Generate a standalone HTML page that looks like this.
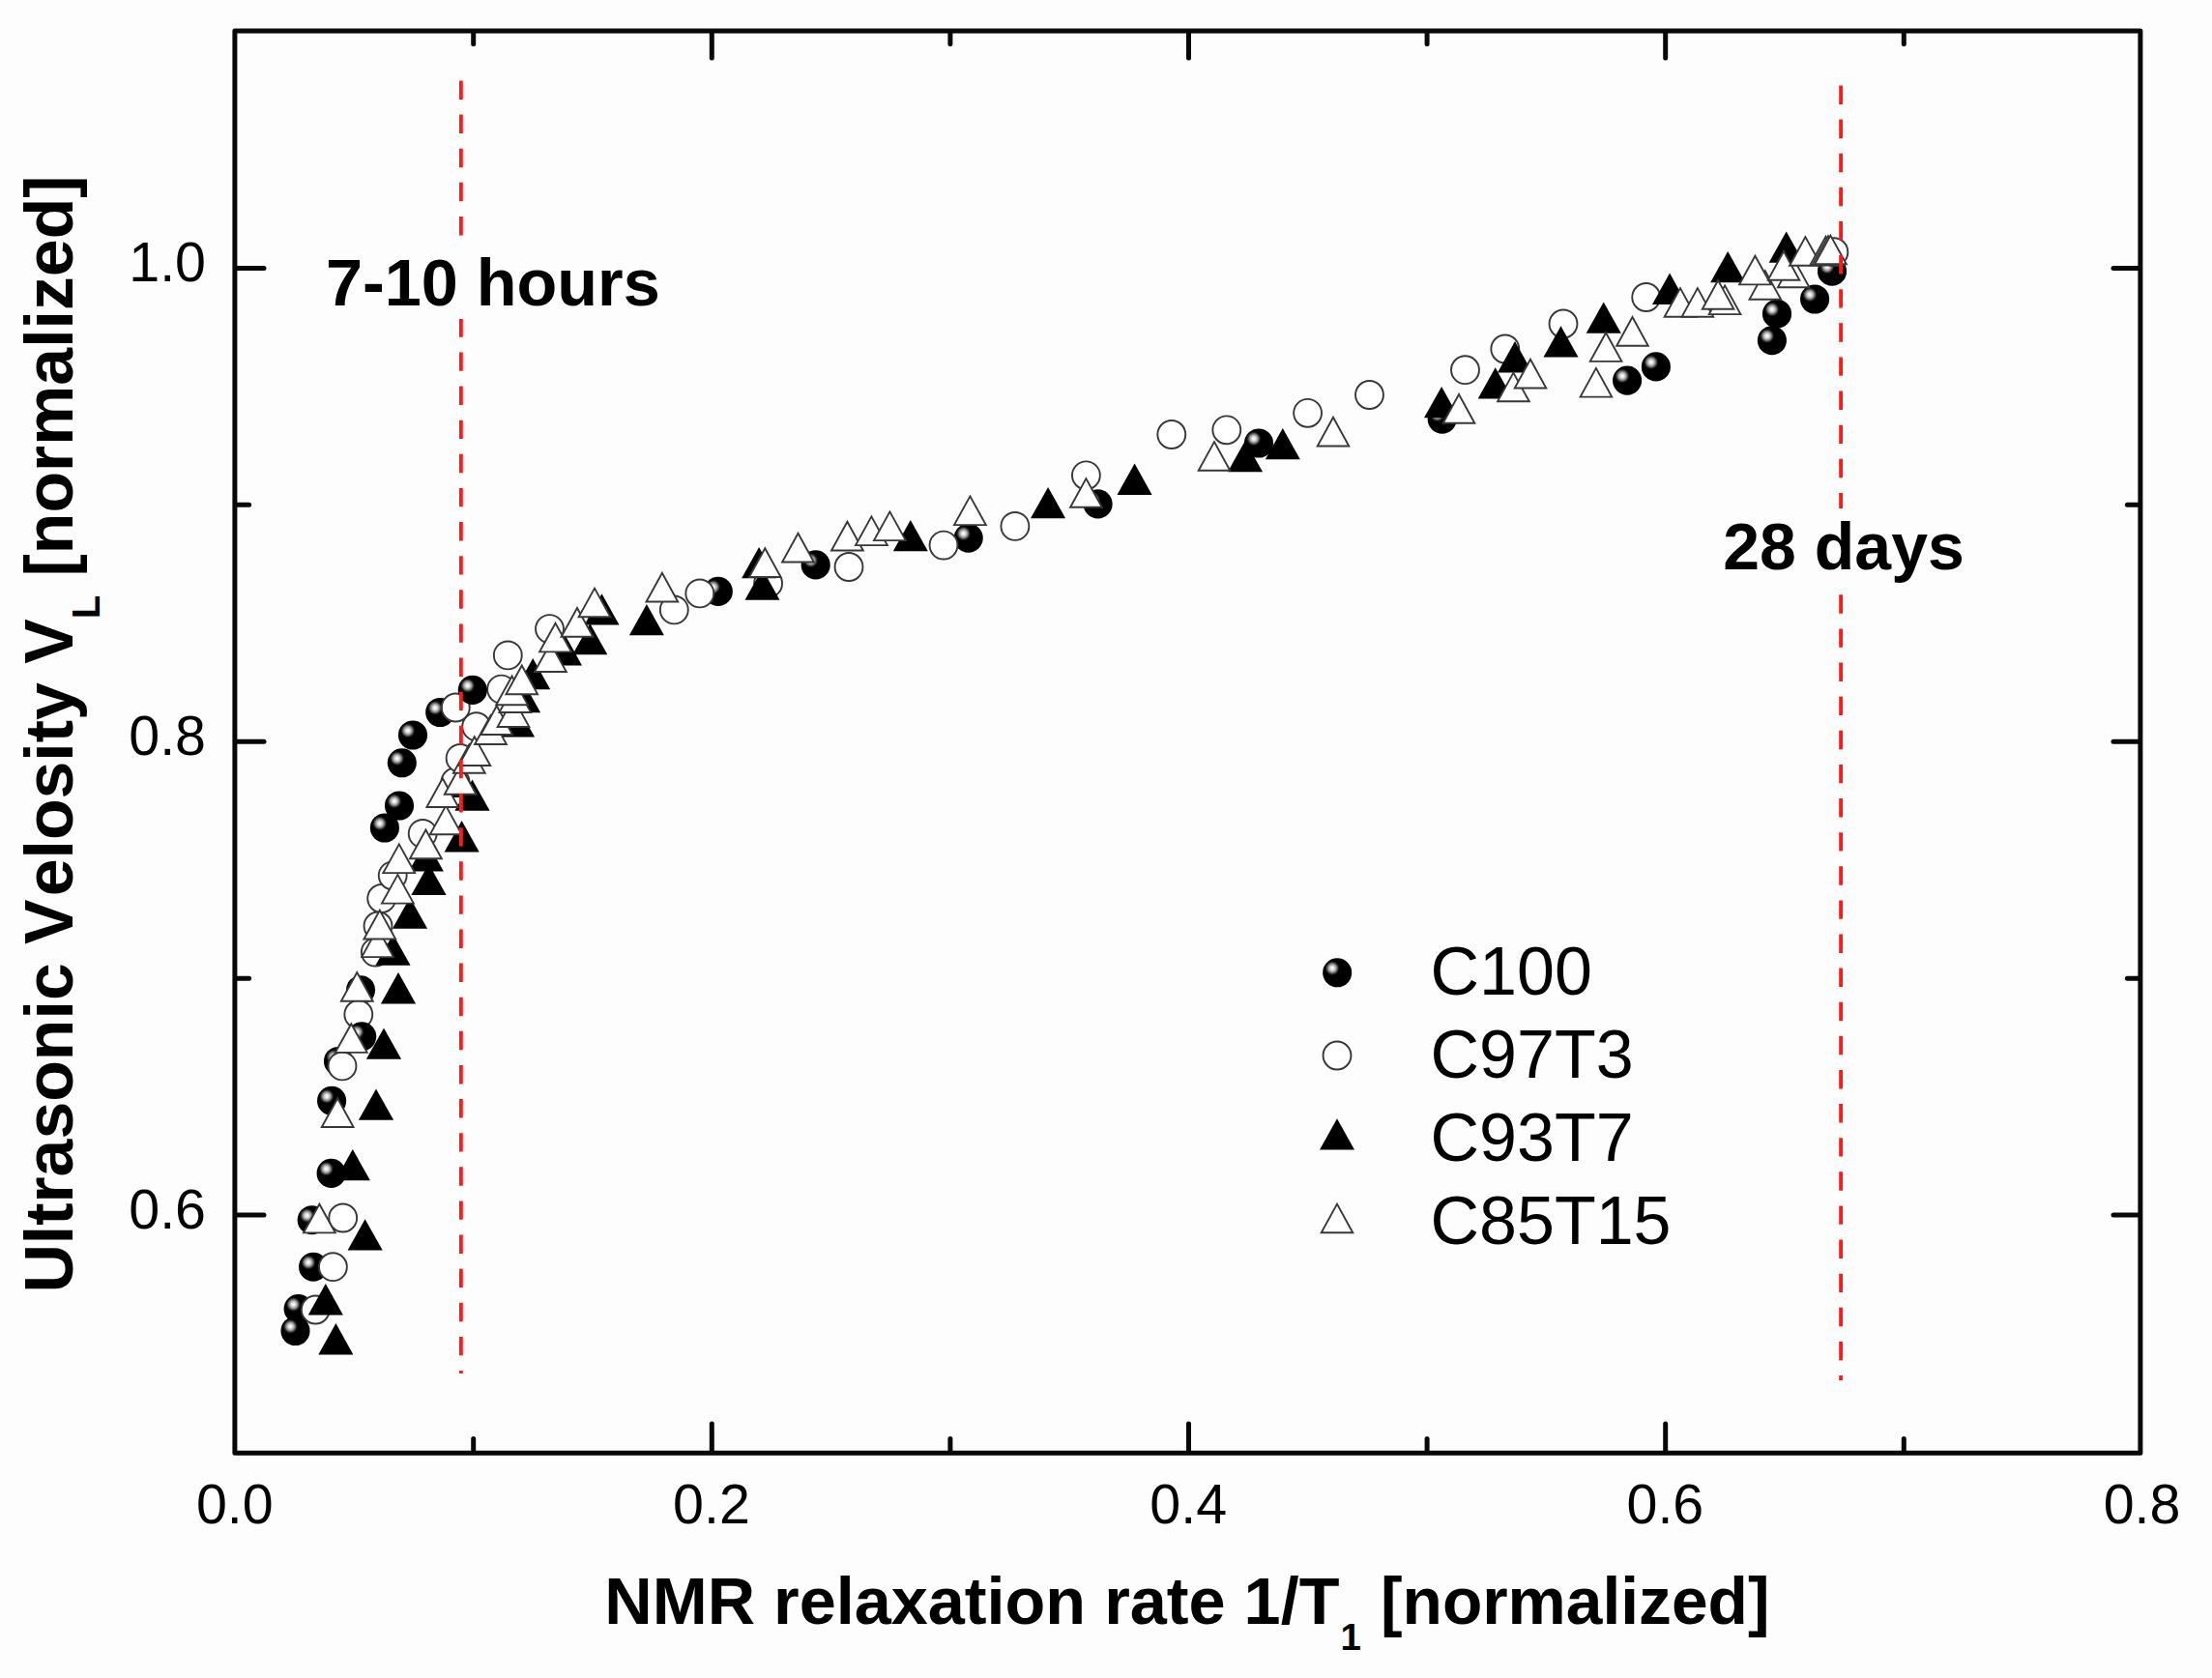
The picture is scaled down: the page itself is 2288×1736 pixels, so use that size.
<!DOCTYPE html>
<html lang="en"><head><meta charset="utf-8"><title>Ultrasonic velocity vs NMR relaxation rate</title>
<style>html,body{margin:0;padding:0;background:#fdfdfd;}svg{display:block;}text{font-family:"Liberation Sans",Arial,Helvetica,sans-serif;fill:#000;font-kerning:none;}</style>
</head><body>
<svg width="2288" height="1736" viewBox="0 0 2288 1736">
<defs><radialGradient id="sg" cx="0.33" cy="0.345" r="0.5" fx="0.33" fy="0.345"><stop offset="0" stop-color="#ffffff"/><stop offset="0.13" stop-color="#e4e4e4"/><stop offset="0.29" stop-color="#8c8c8c"/><stop offset="0.42" stop-color="#242424"/><stop offset="0.5" stop-color="#000"/><stop offset="1" stop-color="#000"/></radialGradient></defs>
<rect x="0" y="0" width="2288" height="1736" fill="#fdfdfd"/>
<g id="c100">
<circle cx="1895.0" cy="280.7" r="15.05" fill="url(#sg)"/>
<circle cx="1877.1" cy="309.5" r="15.05" fill="url(#sg)"/>
<circle cx="1838.0" cy="324.7" r="15.05" fill="url(#sg)"/>
<circle cx="1832.9" cy="352.2" r="15.05" fill="url(#sg)"/>
<circle cx="1712.9" cy="379.4" r="15.05" fill="url(#sg)"/>
<circle cx="1683.1" cy="393.6" r="15.05" fill="url(#sg)"/>
<circle cx="1491.7" cy="433.6" r="15.05" fill="url(#sg)"/>
<circle cx="1302.0" cy="458.5" r="15.05" fill="url(#sg)"/>
<circle cx="1135.6" cy="521.4" r="15.05" fill="url(#sg)"/>
<circle cx="1001.7" cy="556.6" r="15.05" fill="url(#sg)"/>
<circle cx="843.7" cy="584.4" r="15.05" fill="url(#sg)"/>
<circle cx="742.8" cy="611.9" r="15.05" fill="url(#sg)"/>
<circle cx="455.2" cy="737.0" r="15.05" fill="url(#sg)"/>
<circle cx="427.0" cy="760.5" r="15.05" fill="url(#sg)"/>
<circle cx="415.8" cy="789.3" r="15.05" fill="url(#sg)"/>
<circle cx="413.0" cy="833.5" r="15.05" fill="url(#sg)"/>
<circle cx="397.9" cy="856.5" r="15.05" fill="url(#sg)"/>
<circle cx="373.0" cy="1024.2" r="15.05" fill="url(#sg)"/>
<circle cx="350.0" cy="1098.0" r="15.05" fill="url(#sg)"/>
<circle cx="343.1" cy="1138.9" r="15.05" fill="url(#sg)"/>
<circle cx="342.6" cy="1213.9" r="15.05" fill="url(#sg)"/>
<circle cx="322.7" cy="1262.2" r="15.05" fill="url(#sg)"/>
<circle cx="324.1" cy="1310.7" r="15.05" fill="url(#sg)"/>
<circle cx="308.6" cy="1354.1" r="15.05" fill="url(#sg)"/>
</g>
<g id="c97t3" fill="#fff" stroke="#383838" stroke-width="1.9">
<circle cx="326.3" cy="1355.0" r="14.45"/>
<circle cx="344.4" cy="1310.7" r="14.45"/>
<circle cx="354.7" cy="1260.0" r="14.45"/>
<circle cx="354.0" cy="1102.9" r="14.45"/>
<circle cx="370.8" cy="1049.5" r="14.45"/>
<circle cx="388.3" cy="985.1" r="14.45"/>
<circle cx="391.0" cy="958.0" r="14.45"/>
<circle cx="394.7" cy="929.5" r="14.45"/>
<circle cx="406.2" cy="905.8" r="14.45"/>
<circle cx="437.2" cy="862.4" r="14.45"/>
<circle cx="471.0" cy="809.0" r="14.45"/>
<circle cx="476.1" cy="784.4" r="14.45"/>
<circle cx="492.7" cy="751.7" r="14.45"/>
<circle cx="471.3" cy="732.0" r="14.45"/>
<circle cx="518.6" cy="713.1" r="14.45"/>
<circle cx="525.3" cy="677.9" r="14.45"/>
<circle cx="568.5" cy="650.6" r="14.45"/>
<circle cx="697.3" cy="630.9" r="14.45"/>
<circle cx="723.8" cy="613.9" r="14.45"/>
<circle cx="794.6" cy="603.7" r="14.45"/>
<circle cx="878.0" cy="586.5" r="14.45"/>
<circle cx="976.0" cy="564.1" r="14.45"/>
<circle cx="1049.9" cy="544.4" r="14.45"/>
<circle cx="1123.4" cy="491.8" r="14.45"/>
<circle cx="1211.8" cy="449.5" r="14.45"/>
<circle cx="1268.8" cy="444.8" r="14.45"/>
<circle cx="1352.6" cy="427.3" r="14.45"/>
<circle cx="1416.5" cy="408.5" r="14.45"/>
<circle cx="1515.5" cy="382.7" r="14.45"/>
<circle cx="1556.8" cy="361.0" r="14.45"/>
<circle cx="1617.0" cy="335.0" r="14.45"/>
<circle cx="1702.7" cy="307.5" r="14.45"/>
<circle cx="1896.9" cy="260.7" r="14.45"/>
</g>
<g id="c100b">
<circle cx="488.8" cy="713.9" r="15.05" fill="url(#sg)"/>
<circle cx="374.2" cy="1072.3" r="15.05" fill="url(#sg)"/>
<circle cx="305.5" cy="1377.0" r="15.05" fill="url(#sg)"/>
</g>
<g id="c93t7" fill="#000">
<path d="M329.3 1401.4L365.4 1401.4L347.4 1369.1Z"/>
<path d="M318.8 1360.4L354.9 1360.4L336.8 1328.1Z"/>
<path d="M359.6 1293.5L395.7 1293.5L377.6 1261.2Z"/>
<path d="M346.8 1221.2L382.9 1221.2L364.8 1188.9Z"/>
<path d="M370.9 1158.8L407.1 1158.8L389.0 1126.5Z"/>
<path d="M378.9 1095.8L415.1 1095.8L397.0 1063.5Z"/>
<path d="M393.9 1038.4L430.1 1038.4L412.0 1006.1Z"/>
<path d="M388.4 998.7L424.6 998.7L406.5 966.4Z"/>
<path d="M405.9 960.7L442.1 960.7L424.0 928.4Z"/>
<path d="M425.4 926.1L461.6 926.1L443.5 893.8Z"/>
<path d="M422.8 901.5L458.9 901.5L440.9 869.2Z"/>
<path d="M459.6 881.4L495.7 881.4L477.6 849.1Z"/>
<path d="M470.4 838.7L506.6 838.7L488.5 806.4Z"/>
<path d="M458.4 825.0L494.6 825.0L476.5 792.7Z"/>
<path d="M517.0 762.6L553.0 762.6L535.0 730.3Z"/>
<path d="M523.1 737.3L559.1 737.3L541.1 705.0Z"/>
<path d="M533.2 713.2L569.2 713.2L551.2 680.9Z"/>
<path d="M566.0 688.4L602.0 688.4L584.0 656.1Z"/>
<path d="M592.2 677.2L628.3 677.2L610.3 644.9Z"/>
<path d="M650.9 657.3L686.9 657.3L668.9 625.0Z"/>
<path d="M604.5 646.5L640.5 646.5L622.5 614.2Z"/>
<path d="M770.5 620.7L806.5 620.7L788.5 588.4Z"/>
<path d="M767.1 598.3L803.1 598.3L785.1 566.0Z"/>
<path d="M923.8 570.2L959.8 570.2L941.8 537.9Z"/>
<path d="M1066.0 536.3L1102.1 536.3L1084.1 504.0Z"/>
<path d="M1155.5 511.9L1191.6 511.9L1173.6 479.6Z"/>
<path d="M1269.9 488.2L1306.0 488.2L1287.9 455.9Z"/>
<path d="M1308.8 475.3L1344.8 475.3L1326.8 443.0Z"/>
<path d="M1473.0 432.2L1509.1 432.2L1491.1 399.9Z"/>
<path d="M1528.7 412.6L1564.8 412.6L1546.7 380.3Z"/>
<path d="M1549.0 385.4L1585.0 385.4L1567.0 353.1Z"/>
<path d="M1596.5 369.5L1632.5 369.5L1614.5 337.2Z"/>
<path d="M1640.7 344.8L1676.8 344.8L1658.7 312.5Z"/>
<path d="M1709.0 314.9L1745.1 314.9L1727.1 282.6Z"/>
<path d="M1769.2 292.2L1805.2 292.2L1787.2 259.9Z"/>
<path d="M1829.7 271.8L1865.8 271.8L1847.7 239.5Z"/>
</g>
<g id="c85t15" fill="#fff" stroke="#383838" stroke-width="1.9" stroke-linejoin="miter">
<path d="M314.0 1275.4L346.8 1275.4L330.4 1245.7Z"/>
<path d="M332.8 1166.0L365.6 1166.0L349.2 1136.3Z"/>
<path d="M346.9 1088.9L379.7 1088.9L363.3 1059.2Z"/>
<path d="M352.9 1035.7L385.7 1035.7L369.3 1006.0Z"/>
<path d="M374.2 990.1L407.0 990.1L390.6 960.4Z"/>
<path d="M376.4 971.5L409.2 971.5L392.8 941.8Z"/>
<path d="M395.0 934.6L427.8 934.6L411.4 904.9Z"/>
<path d="M396.4 903.1L429.2 903.1L412.8 873.4Z"/>
<path d="M424.0 888.2L456.8 888.2L440.4 858.5Z"/>
<path d="M444.8 863.3L477.6 863.3L461.2 833.6Z"/>
<path d="M441.4 835.0L474.2 835.0L457.8 805.3Z"/>
<path d="M459.8 821.7L492.6 821.7L476.2 792.0Z"/>
<path d="M468.9 799.8L501.7 799.8L485.3 770.1Z"/>
<path d="M474.4 792.0L507.2 792.0L490.8 762.3Z"/>
<path d="M491.1 770.0L523.9 770.0L507.5 740.3Z"/>
<path d="M497.4 760.0L530.1 760.0L513.8 730.3Z"/>
<path d="M514.6 752.0L547.4 752.0L531.0 722.3Z"/>
<path d="M516.4 737.0L549.1 737.0L532.8 707.3Z"/>
<path d="M513.2 729.2L546.0 729.2L529.6 699.5Z"/>
<path d="M523.4 718.2L556.1 718.2L539.8 688.5Z"/>
<path d="M553.0 695.0L585.8 695.0L569.4 665.3Z"/>
<path d="M558.1 674.4L590.9 674.4L574.5 644.7Z"/>
<path d="M580.6 658.7L613.4 658.7L597.0 629.0Z"/>
<path d="M598.6 638.3L631.4 638.3L615.0 608.6Z"/>
<path d="M668.5 622.5L701.2 622.5L684.9 592.8Z"/>
<path d="M774.9 597.0L807.6 597.0L791.3 567.3Z"/>
<path d="M809.1 581.5L841.9 581.5L825.5 551.8Z"/>
<path d="M860.0 569.5L892.8 569.5L876.4 539.8Z"/>
<path d="M885.0 564.1L917.8 564.1L901.4 534.4Z"/>
<path d="M904.0 559.1L936.8 559.1L920.4 529.4Z"/>
<path d="M987.0 543.1L1019.8 543.1L1003.4 513.4Z"/>
<path d="M1107.1 524.8L1139.8 524.8L1123.4 495.1Z"/>
<path d="M1239.7 486.8L1272.3 486.8L1256.0 457.1Z"/>
<path d="M1362.7 461.5L1395.3 461.5L1379.0 431.8Z"/>
<path d="M1492.7 437.7L1525.3 437.7L1509.0 408.0Z"/>
<path d="M1549.1 415.3L1581.8 415.3L1565.4 385.6Z"/>
<path d="M1634.6 410.6L1667.2 410.6L1650.9 380.9Z"/>
<path d="M1566.7 401.5L1599.3 401.5L1583.0 371.8Z"/>
<path d="M1644.8 373.9L1677.4 373.9L1661.1 344.2Z"/>
<path d="M1672.2 357.7L1704.8 357.7L1688.5 328.0Z"/>
<path d="M1721.7 327.8L1754.3 327.8L1738.0 298.1Z"/>
<path d="M1739.6 327.8L1772.2 327.8L1755.9 298.1Z"/>
<path d="M1767.8 325.1L1800.4 325.1L1784.1 295.4Z"/>
<path d="M1760.8 319.7L1793.4 319.7L1777.1 290.0Z"/>
<path d="M1809.5 309.8L1842.1 309.8L1825.8 280.1Z"/>
<path d="M1838.9 297.3L1871.5 297.3L1855.2 267.6Z"/>
<path d="M1799.1 294.4L1831.8 294.4L1815.4 264.7Z"/>
<path d="M1828.7 289.7L1861.3 289.7L1845.0 260.0Z"/>
<path d="M1851.1 274.8L1883.8 274.8L1867.4 245.1Z"/>
<path d="M1872.2 274.5L1904.8 274.5L1888.5 244.8Z"/>
<path d="M1874.7 274.0L1907.3 274.0L1891.0 244.3Z"/>
<path d="M1877.1 273.3L1909.8 273.3L1893.4 243.6Z"/>
</g>
<g stroke="#ff1a1a" stroke-width="3.8" stroke-dasharray="19.4 15.72" fill="none">
<line x1="476.9" y1="83.5" x2="476.9" y2="1421"/>
<line x1="1904.1" y1="88.5" x2="1904.1" y2="1428"/>
</g>
<rect x="242.9" y="32.0" width="1971.0" height="1471.2" fill="none" stroke="#080808" stroke-width="5.0" stroke-linejoin="round"/>
<g stroke="#080808" stroke-width="5.0" stroke-linecap="round">
<line x1="489.7" y1="1502.2" x2="489.7" y2="1488.5"/>
<line x1="489.7" y1="33.0" x2="489.7" y2="45.5"/>
<line x1="736.3" y1="1502.2" x2="736.3" y2="1473.1"/>
<line x1="736.3" y1="33.0" x2="736.3" y2="59.9"/>
<line x1="982.9" y1="1502.2" x2="982.9" y2="1488.5"/>
<line x1="982.9" y1="33.0" x2="982.9" y2="45.5"/>
<line x1="1229.5" y1="1502.2" x2="1229.5" y2="1473.1"/>
<line x1="1229.5" y1="33.0" x2="1229.5" y2="59.9"/>
<line x1="1476.1" y1="1502.2" x2="1476.1" y2="1488.5"/>
<line x1="1476.1" y1="33.0" x2="1476.1" y2="45.5"/>
<line x1="1722.7" y1="1502.2" x2="1722.7" y2="1473.1"/>
<line x1="1722.7" y1="33.0" x2="1722.7" y2="59.9"/>
<line x1="1969.3" y1="1502.2" x2="1969.3" y2="1488.5"/>
<line x1="1969.3" y1="33.0" x2="1969.3" y2="45.5"/>
<line x1="243.9" y1="1257.1" x2="273.0" y2="1257.1"/>
<line x1="2212.9" y1="1257.1" x2="2186.0" y2="1257.1"/>
<line x1="243.9" y1="1012.2" x2="257.6" y2="1012.2"/>
<line x1="2212.9" y1="1012.2" x2="2200.4" y2="1012.2"/>
<line x1="243.9" y1="767.3" x2="273.0" y2="767.3"/>
<line x1="2212.9" y1="767.3" x2="2186.0" y2="767.3"/>
<line x1="243.9" y1="522.3" x2="257.6" y2="522.3"/>
<line x1="2212.9" y1="522.3" x2="2200.4" y2="522.3"/>
<line x1="243.9" y1="277.4" x2="273.0" y2="277.4"/>
<line x1="2212.9" y1="277.4" x2="2186.0" y2="277.4"/>
</g>
<g font-size="57.4" text-anchor="middle">
<text x="242.8" y="1576.3">0.0</text>
<text x="736.0" y="1576.3">0.2</text>
<text x="1229.2" y="1576.3">0.4</text>
<text x="1722.4" y="1576.3">0.6</text>
<text x="2215.6" y="1576.3">0.8</text>
</g>
<g font-size="57.4" text-anchor="end">
<text x="213" y="291.4">1.0</text>
<text x="213" y="781.3">0.8</text>
<text x="213" y="1271.1">0.6</text>
</g>
<rect x="332" y="245.5" width="356" height="84.5" fill="#fdfdfd"/>
<text x="336.9" y="316.4" font-size="68.4" font-weight="bold">7-10 hours</text>
<rect x="1778" y="526" width="258" height="88" fill="#fdfdfd"/>
<text x="1782.3" y="588.7" font-size="68" font-weight="bold">28 days</text>
<g id="legend">
<circle cx="1383.2" cy="1006.3" r="15.05" fill="url(#sg)"/>
<circle cx="1383.0" cy="1092.0" r="14.45" fill="#fff" stroke="#383838" stroke-width="1.9"/>
<path d="M1365.0 1189.6L1401.0 1189.6L1383.0 1157.3Z" fill="#000"/>
<path d="M1366.7 1275.3L1399.3 1275.3L1383.0 1245.6Z" fill="#fff" stroke="#383838" stroke-width="1.9"/>
<text x="1479.5" y="1029.1" font-size="70">C100</text>
<text x="1479.5" y="1115.3" font-size="70">C97T3</text>
<text x="1479.5" y="1201.2" font-size="70">C93T7</text>
<text x="1479.5" y="1287.2" font-size="70">C85T15</text>
</g>
<text x="625.3" y="1680.3" font-size="68.4" font-weight="bold">NMR relaxation rate 1/T<tspan font-size="38.5" dy="26.8" dx="1">1</tspan><tspan dy="-26.8" dx="1.4" font-size="67.7"> [normalized]</tspan></text>
<text transform="translate(74.7,1337.6) rotate(-90)" font-size="69.8" font-weight="bold">Ultrasonic <tspan dx="0 3">Velosity</tspan> V<tspan font-size="40" dy="28">L</tspan><tspan dy="-28"> [normalized]</tspan></text>
</svg>
</body></html>
